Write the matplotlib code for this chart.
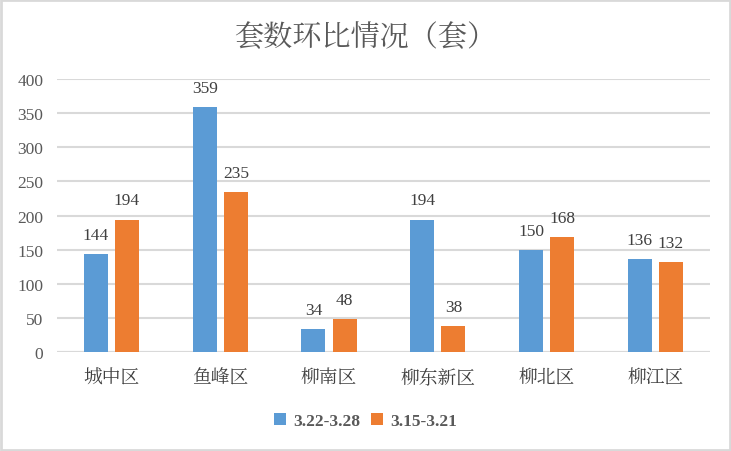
import numpy as np
import matplotlib.pyplot as plt
from matplotlib.patches import Rectangle

plt.rcParams['font.family'] = ['Liberation Serif', 'Noto Serif CJK SC', 'Noto Sans CJK SC', 'DejaVu Sans']

categories = ['城中区', '鱼峰区', '柳南区', '柳东新区', '柳北区', '柳江区']
series_names = ['3.22-3.28', '3.15-3.21']
this_week = [144, 359, 34, 194, 150, 136]
last_week = [194, 235, 48, 38, 168, 132]
title = '套数环比情况（套）'

blue = '#5B9BD5'
orange = '#ED7D31'
grey = '#595959'
grid = '#D9D9D9'

fig = plt.figure(figsize=(7.31, 4.52), dpi=100)
ax = fig.add_axes([0.078, 0.219, 0.893, 0.604])

x = np.arange(len(categories))
w = 0.22
off = 0.143
b1 = ax.bar(x - off, this_week, w, color=blue, label=series_names[0], zorder=3)
b2 = ax.bar(x + off, last_week, w, color=orange, label=series_names[1], zorder=3)

for bars, vals in ((b1, this_week), (b2, last_week)):
    for r, v in zip(bars, vals):
        ax.annotate(str(v), (r.get_x() + r.get_width() / 2, v), xytext=(0, 8),
                    textcoords='offset points', ha='center', va='bottom',
                    fontsize=12.5, color='#404040')

ax.set_xlim(-0.5, len(categories) - 0.5)
ax.set_ylim(0, 400)
ax.set_yticks(range(0, 401, 50))
ax.yaxis.grid(True, color=grid, linewidth=1.5, zorder=0)
for s in ax.spines.values():
    s.set_visible(False)
ax.tick_params(axis='both', length=0, colors=grey)
ax.tick_params(axis='y', labelsize=12.5, pad=10)
ax.set_xticks(x)
ax.set_xticklabels(categories, fontsize=13.5, color='#404040',
                   family=['Noto Serif CJK SC', 'Noto Sans CJK SC'])
ax.tick_params(axis='x', pad=11)
ax.axhline(0, color=grid, linewidth=1.5, zorder=2)

fig.suptitle(title, y=0.952, fontsize=21, color=grey, family=['Noto Serif CJK SC', 'Noto Sans CJK SC'])

fig.legend(loc='center', bbox_to_anchor=(0.5, 0.066), ncol=2, frameon=False,
           prop={'size': 12.5, 'weight': 'bold'}, handlelength=0.7, handleheight=0.7,
           handletextpad=0.4, columnspacing=0.6, labelcolor=grey)

fig.patches.append(Rectangle((0.002, 0.003), 0.996, 0.994, transform=fig.transFigure,
                             fill=False, edgecolor=grid, linewidth=2))

fig.savefig('out.png', dpi=100)
